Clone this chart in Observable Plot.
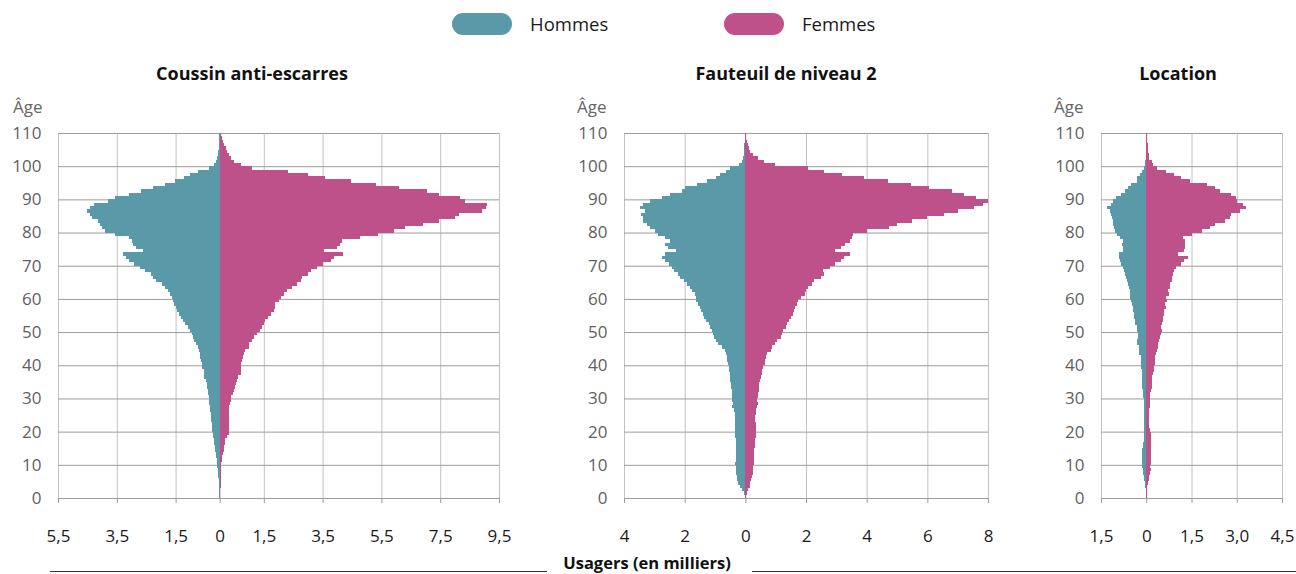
<!DOCTYPE html>
<html>
<head>
<meta charset="utf-8">
<script src="https://cdn.jsdelivr.net/npm/d3@7"></script>
<script src="https://cdn.jsdelivr.net/npm/@observablehq/plot@0.6"></script>
<style>
  html, body { margin: 0; padding: 0; background: #fff; }
  #root { position: relative; width: 1296px; height: 574px; font-family: "Open Sans", sans-serif; overflow: hidden; }
  .abs { position: absolute; white-space: nowrap; }
  .pill { position: absolute; width: 60px; height: 22px; border-radius: 11px; }
  .leg { position: absolute; font-size: 18.5px; color: #1a1a1a; line-height: 22px; }
  .title { position: absolute; font-size: 18px; font-weight: 700; color: #111; transform: translateX(-50%); line-height: 20px; white-space: nowrap; }
  .age { position: absolute; font-size: 17px; color: #666; line-height: 20px; }
  .hr { position: absolute; height: 0; border-top: 1.3px solid #333; }
</style>
</head>
<body>
<div id="root"></div>
<script>
// ---- Data (ages 0..109, thousands of users) ----
const ages = d3.range(0, 110);
const sexes = ["Hommes", "Femmes"];
const colors = ["#5a9aa8", "#be508a"];
const panelTitles = ["Coussin anti-escarres", "Fauteuil de niveau 2", "Location"];

const coussinHommes = [
  0.01,0.01,0.02,0.02,0.02,0.03,0.05,0.06,0.06,0.08,
  0.09,0.10,0.12,0.14,0.15,0.17,0.19,0.20,0.22,0.24,
  0.25,0.26,0.27,0.28,0.30,0.31,0.32,0.34,0.35,0.36,
  0.38,0.39,0.40,0.42,0.44,0.48,0.52,0.53,0.54,0.60,
  0.61,0.64,0.66,0.68,0.72,0.74,0.82,0.88,0.90,0.93,
  1.00,1.08,1.18,1.26,1.33,1.40,1.45,1.50,1.55,1.58,
  1.62,1.68,1.75,1.86,1.95,2.15,2.26,2.35,2.55,2.72,
  2.90,3.08,3.20,3.28,2.60,2.85,2.95,3.00,3.10,3.55,
  3.90,4.00,4.08,4.14,4.36,4.42,4.50,4.40,4.28,3.80,
  3.55,3.08,2.66,2.28,1.86,1.52,1.20,1.00,0.73,0.35,
  0.20,0.12,0.08,0.06,0.05,0.04,0.03,0.02,0.02,0.01
];
const coussinFemmes = [
  0.02,0.02,0.02,0.03,0.03,0.03,0.03,0.04,0.04,0.05,
  0.06,0.08,0.09,0.12,0.13,0.16,0.18,0.19,0.24,0.30,
  0.30,0.30,0.30,0.30,0.30,0.31,0.31,0.33,0.34,0.38,
  0.40,0.44,0.48,0.51,0.56,0.59,0.61,0.73,0.73,0.72,
  0.74,0.76,0.78,0.83,0.86,0.98,1.00,1.11,1.15,1.26,
  1.38,1.43,1.49,1.55,1.64,1.75,1.85,1.87,1.89,2.02,
  2.10,2.20,2.30,2.45,2.62,2.75,2.80,3.00,3.10,3.30,
  3.50,3.80,3.90,4.20,3.55,4.00,4.10,4.15,4.78,5.40,
  5.94,6.30,6.90,7.45,8.02,8.14,8.93,9.05,9.10,8.36,
  8.17,7.45,7.05,6.10,5.30,4.47,3.57,3.00,2.34,1.09,
  0.72,0.48,0.37,0.30,0.25,0.20,0.15,0.10,0.07,0.03
];
const fauteuilHommes = [
  0.02,0.05,0.10,0.18,0.23,0.26,0.29,0.30,0.31,0.32,
  0.33,0.32,0.31,0.31,0.32,0.31,0.31,0.32,0.34,0.35,
  0.34,0.33,0.34,0.34,0.35,0.35,0.39,0.43,0.42,0.43,
  0.43,0.44,0.45,0.46,0.47,0.49,0.50,0.52,0.53,0.55,
  0.56,0.60,0.62,0.65,0.68,0.76,0.90,0.96,1.02,1.06,
  1.09,1.15,1.20,1.31,1.36,1.40,1.45,1.50,1.55,1.61,
  1.64,1.67,1.75,1.81,1.92,2.03,2.14,2.22,2.36,2.42,
  2.53,2.64,2.75,2.66,2.30,2.55,2.66,2.47,2.66,2.88,
  2.97,3.13,3.25,3.36,3.39,3.43,3.30,3.47,3.36,3.13,
  2.75,2.47,2.10,1.98,1.59,1.26,0.98,0.82,0.65,0.49,
  0.20,0.12,0.07,0.06,0.05,0.04,0.03,0.02,0.02,0.01
];
const fauteuilFemmes = [
  0.02,0.04,0.10,0.14,0.17,0.20,0.23,0.24,0.25,0.26,
  0.28,0.28,0.29,0.29,0.30,0.31,0.32,0.33,0.35,0.34,
  0.35,0.34,0.34,0.33,0.33,0.34,0.36,0.39,0.41,0.40,
  0.42,0.43,0.46,0.45,0.45,0.49,0.51,0.54,0.56,0.58,
  0.64,0.64,0.67,0.73,0.84,0.89,0.98,1.06,1.18,1.20,
  1.25,1.34,1.39,1.45,1.50,1.56,1.61,1.65,1.70,1.75,
  1.83,1.98,2.00,2.05,2.20,2.25,2.50,2.60,2.55,2.80,
  2.95,3.15,3.25,3.45,2.95,3.15,3.30,3.45,3.50,3.55,
  4.00,4.75,5.00,5.50,6.00,6.55,7.00,7.55,7.85,8.00,
  7.60,7.20,6.80,6.05,5.45,4.70,3.90,3.20,2.58,2.05,
  0.98,0.60,0.43,0.26,0.17,0.12,0.08,0.05,0.03,0.02
];
const locationHommes = [
  0.01,0.01,0.02,0.05,0.05,0.08,0.08,0.12,0.12,0.13,
  0.13,0.13,0.13,0.13,0.13,0.10,0.10,0.07,0.07,0.07,
  0.09,0.09,0.09,0.08,0.08,0.08,0.09,0.09,0.09,0.09,
  0.10,0.10,0.10,0.14,0.14,0.14,0.15,0.15,0.15,0.18,
  0.18,0.18,0.18,0.23,0.23,0.23,0.30,0.30,0.26,0.26,
  0.32,0.32,0.36,0.36,0.40,0.41,0.43,0.45,0.48,0.52,
  0.54,0.53,0.54,0.56,0.62,0.65,0.68,0.71,0.74,0.78,
  0.83,0.87,0.90,0.89,0.76,0.78,0.80,0.76,0.87,0.96,
  1.04,1.07,1.09,1.09,1.12,1.17,1.20,1.30,1.18,1.11,
  1.00,0.84,0.70,0.62,0.49,0.32,0.30,0.21,0.15,0.08,
  0.05,0.03,0.02,0.02,0.02,0.01,0.01,0.01,0.01,0.01
];
const locationFemmes = [
  0.01,0.01,0.02,0.04,0.07,0.08,0.10,0.12,0.15,0.14,
  0.15,0.15,0.15,0.15,0.15,0.15,0.15,0.15,0.15,0.15,
  0.12,0.10,0.10,0.10,0.10,0.10,0.10,0.11,0.12,0.12,
  0.12,0.14,0.17,0.18,0.18,0.20,0.20,0.22,0.25,0.26,
  0.28,0.30,0.30,0.32,0.35,0.38,0.40,0.42,0.45,0.50,
  0.52,0.50,0.53,0.55,0.55,0.58,0.58,0.64,0.62,0.69,
  0.67,0.76,0.73,0.78,0.78,0.84,0.87,0.89,0.92,0.98,
  1.14,1.25,1.37,1.04,1.25,1.28,1.28,1.30,1.22,1.53,
  1.85,2.10,2.29,2.60,2.77,2.82,3.12,3.30,3.21,3.00,
  2.99,2.82,2.44,2.27,2.03,1.44,1.14,0.93,0.64,0.36,
  0.23,0.18,0.10,0.10,0.05,0.05,0.05,0.03,0.02,0.01
];

// tick values (negative = men side) and age ticks
const coussinTicks = [-5.5, -3.5, -1.5, 0, 1.5, 3.5, 5.5, 7.5, 9.5];
const fauteuilTicks = [-4, -2, 0, 2, 4, 6, 8];
const locationTicks = [-1.5, 0, 1.5, 3.0, 4.5];
const ageTicks = [0, 10, 20, 30, 40, 50, 60, 70, 80, 90, 100, 110];

const fmtDec = d => d === 0 ? "0" : Math.abs(d).toFixed(1).replace(".", ",");
const fmtInt = d => String(Math.abs(d));

const root = document.getElementById("root");
function add(html) { root.insertAdjacentHTML("beforeend", html); }

// Legend
add(`<div class="pill" style="left:452px;top:13px;background:${colors[0]}"></div>
<div class="leg" style="left:530px;top:13px">${sexes[0]}</div>
<div class="pill" style="left:724px;top:13px;background:${colors[1]}"></div>
<div class="leg" style="left:802px;top:13px">${sexes[1]}</div>`);

const panels = [
  {title: panelTitles[0], h: coussinHommes, f: coussinFemmes, ticks: coussinTicks, fmt: fmtDec,
   left: 0, ml: 58, frame: 441, mr: 10, titleX: 252, ageX: 13},
  {title: panelTitles[1], h: fauteuilHommes, f: fauteuilFemmes, ticks: fauteuilTicks, fmt: fmtInt,
   left: 560, ml: 64, frame: 364, mr: 10, titleX: 786, ageX: 577},
  {title: panelTitles[2], h: locationHommes, f: locationFemmes, ticks: locationTicks, fmt: fmtDec,
   left: 1040, ml: 61, frame: 181, mr: 14, titleX: 1178, ageX: 1054}
];

for (const p of panels) {
  add(`<div class="title" style="left:${p.titleX}px;top:63px">${p.title}</div>`);
  add(`<div class="age" style="left:${p.ageX}px;top:97px">Âge</div>`);
  const data = ages.flatMap(a => [
    {age: a, sexe: sexes[0], v: -p.h[a]},
    {age: a, sexe: sexes[1], v: p.f[a]}
  ]);
  const chart = Plot.plot({
    width: p.ml + p.frame + p.mr,
    height: 428,
    marginTop: 13,
    marginBottom: 50,
    marginLeft: p.ml,
    marginRight: p.mr,
    style: {fontFamily: "Open Sans, sans-serif", fontSize: "17px", background: "transparent", overflow: "visible"},
    x: {domain: [p.ticks[0], p.ticks[p.ticks.length - 1]], label: null},
    y: {domain: [0, 110], label: null},
    color: {domain: sexes, range: colors},
    marks: [
      Plot.ruleX(p.ticks, {stroke: "#c2c2c2", strokeWidth: 1}),
      Plot.ruleY(ageTicks, {stroke: "#9c9c9c", strokeWidth: 1}),
      Plot.rect(data, {x1: 0, x2: "v", y1: "age", y2: d => d.age + 1, fill: "sexe", shapeRendering: "crispEdges"}),
      Plot.axisX({ticks: p.ticks, tickFormat: p.fmt, tickSize: 5, tickPadding: 26, stroke: "#9c9c9c", color: "#1a1a1a", label: null}),
      Plot.axisY({ticks: ageTicks, tickSize: 0, tickPadding: 17, color: "#5f5f5f", label: null})
    ]
  });
  chart.style.position = "absolute";
  chart.style.left = p.left + "px";
  chart.style.top = "120px";
  root.appendChild(chart);
}

// Shared x label
add(`<div class="hr" style="left:50px;width:497px;top:571px"></div>
<div class="abs" style="left:647px;top:554px;transform:translateX(-50%);font-size:16.5px;font-weight:700;color:#111;line-height:18px">Usagers (en milliers)</div>
<div class="hr" style="left:752px;width:544px;top:571px"></div>`);
</script>
</body>
</html>
